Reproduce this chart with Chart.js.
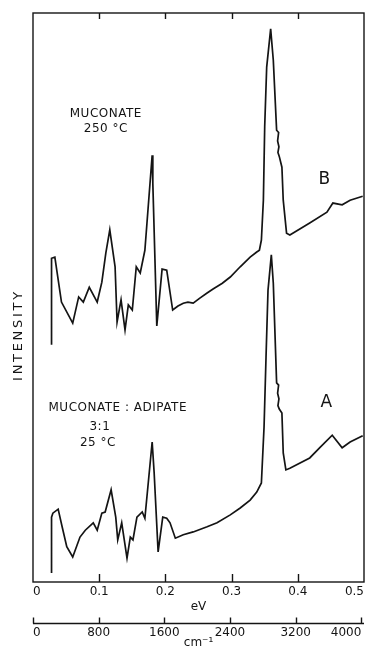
<!DOCTYPE html>
<html>
<head>
<meta charset="utf-8">
<script src="https://cdn.jsdelivr.net/npm/chart.js@4.4.0/dist/chart.umd.min.js"></script>
<style>
  html, body { margin: 0; background: #fff; }
  canvas { display: block; }
</style>
</head>
<body>
<canvas id="chart" width="368" height="658"></canvas>
<script>
const evTicks = [0, 0.1, 0.2, 0.3, 0.4, 0.5];
const cmTicks = [0, 800, 1600, 2400, 3200, 4000];
const EV_TO_CM = 8065.5;

// B : muconate 250 °C  (eV / intensity, arb. units)
const bEv = [0.028, 0.028, 0.033, 0.043, 0.060, 0.069, 0.076, 0.085, 0.097, 0.104,
  0.110, 0.116, 0.124, 0.127, 0.133, 0.139, 0.144, 0.150, 0.156, 0.162,
  0.169, 0.180, 0.181, 0.187, 0.195, 0.202, 0.211, 0.219, 0.227, 0.234,
  0.242, 0.252, 0.263, 0.272, 0.286, 0.298, 0.313, 0.328, 0.338, 0.342,
  0.345, 0.348, 0.350, 0.353, 0.359, 0.363, 0.368, 0.371, 0.3695, 0.3715,
  0.370, 0.372, 0.376, 0.378, 0.383, 0.388, 0.418, 0.444, 0.453, 0.467,
  0.479, 0.498];
const bInt = [41.7, 56.9, 57.1, 49.2, 45.5, 50.1, 49.2, 51.8, 49.2, 52.7,
  57.8, 61.9, 55.4, 45.7, 49.6, 44.3, 48.7, 47.8, 55.4, 54.3,
  58.3, 75.0, 70.1, 45.0, 55.0, 54.8, 47.8, 48.5, 49.0, 49.2,
  49.0, 49.9, 50.8, 51.5, 52.5, 53.6, 55.4, 57.1, 58.0, 58.3,
  60.1, 67.1, 80.0, 90.5, 97.2, 91.7, 79.4, 79.0, 77.5, 76.5,
  75.5, 74.8, 72.9, 67.1, 61.3, 61.0, 63.1, 65.0, 66.6, 66.3,
  67.1, 67.8];

// A : muconate:adipate 3:1, 25 °C
const aEv = [0.028, 0.028, 0.030, 0.038, 0.044, 0.051, 0.060, 0.071, 0.079, 0.091,
  0.097, 0.104, 0.109, 0.118, 0.125, 0.128, 0.134, 0.142, 0.147, 0.151,
  0.157, 0.165, 0.169, 0.180, 0.183, 0.189, 0.196, 0.202, 0.207, 0.215,
  0.227, 0.242, 0.263, 0.278, 0.298, 0.313, 0.328, 0.338, 0.345, 0.349,
  0.352, 0.355, 0.360, 0.363, 0.368, 0.371, 0.3695, 0.3715, 0.370, 0.372,
  0.376, 0.378, 0.382, 0.388, 0.418, 0.434, 0.452, 0.467, 0.479, 0.498];
const aInt = [1.6, 11.4, 12.1, 12.8, 9.7, 6.2, 4.4, 7.9, 9.1, 10.4,
  9.1, 12.1, 12.3, 16.2, 11.4, 7.4, 10.4, 4.2, 7.9, 7.4,
  11.4, 12.3, 11.2, 24.6, 19.2, 5.3, 11.4, 11.2, 10.4, 7.7,
  8.3, 8.8, 9.7, 10.4, 11.8, 13.0, 14.4, 15.8, 17.4, 27.2,
  39.5, 51.3, 57.5, 52.5, 35.0, 34.6, 33.2, 32.2, 31.0, 30.4,
  29.7, 22.7, 19.7, 20.0, 21.8, 23.7, 25.8, 23.6, 24.6, 25.7];

const INK = '#141414';
const FONT = '"DejaVu Sans", sans-serif';

function pts(xs, ys) {
  return xs.map((x, i) => ({ x: x, y: ys[i] }));
}

// text written on the plot, placed in data units
const notes = [
  { text: 'MUCONATE', x: 0.110, y: 82.2, size: 12 },
  { text: '250 °C', x: 0.110, y: 79.6, size: 12 },
  { text: 'B', x: 0.440, y: 70.8, size: 17 },
  { text: 'MUCONATE : ADIPATE', x: 0.128, y: 30.6, size: 12 },
  { text: '3:1', x: 0.101, y: 27.2, size: 12 },
  { text: '25 °C', x: 0.098, y: 24.4, size: 12 },
  { text: 'A', x: 0.443, y: 31.5, size: 17 }
];

const framePlugin = {
  id: 'frame',
  beforeDraw(chart) {
    const ctx = chart.ctx;
    ctx.save();
    ctx.fillStyle = '#fff';
    ctx.fillRect(0, 0, chart.width, chart.height);
    ctx.restore();
  },
  afterDraw(chart) {
    const { ctx, chartArea: ca, scales } = chart;
    const x = scales.x, x2 = scales.x2, y = scales.y;
    ctx.save();
    ctx.strokeStyle = INK;
    ctx.lineWidth = 1.4;
    ctx.strokeRect(ca.left, ca.top, ca.right - ca.left, ca.bottom - ca.top);

    ctx.beginPath();
    evTicks.slice(1, -1).forEach(v => {
      const px = Math.round(x.getPixelForValue(v)) + 0.5;
      ctx.moveTo(px, ca.top); ctx.lineTo(px, ca.top + 6);
      ctx.moveTo(px, ca.bottom); ctx.lineTo(px, ca.bottom - 8);
    });
    // wavenumber axis
    const yc = x2.top + 0.5;
    ctx.moveTo(ca.left, yc); ctx.lineTo(ca.right, yc);
    cmTicks.forEach(v => {
      const px = Math.round(x2.getPixelForValue(v)) + 0.5;
      ctx.moveTo(px, yc); ctx.lineTo(px, yc - 6);
    });
    ctx.stroke();

    ctx.fillStyle = INK;
    ctx.textAlign = 'center';
    ctx.textBaseline = 'middle';
    notes.forEach(n => {
      ctx.font = n.size + 'px ' + FONT;
      ctx.letterSpacing = n.size > 14 ? '0px' : '0.5px';
      ctx.fillText(n.text, x.getPixelForValue(n.x), y.getPixelForValue(n.y));
    });

    ctx.translate(ca.left - 14, y.getPixelForValue(43.4));
    ctx.rotate(-Math.PI / 2);
    ctx.font = '13px ' + FONT;
    ctx.letterSpacing = '2.7px';
    ctx.fillText('INTENSITY', 0, 0);
    ctx.restore();
  }
};

new Chart(document.getElementById('chart'), {
  type: 'line',
  data: {
    datasets: [
      { label: 'B', data: pts(bEv, bInt), borderColor: INK, borderWidth: 1.7, pointRadius: 0, tension: 0 },
      { label: 'A', data: pts(aEv, aInt), borderColor: INK, borderWidth: 1.7, pointRadius: 0, tension: 0 }
    ]
  },
  options: {
    responsive: false,
    animation: false,
    layout: { padding: { top: 13, left: 33, right: 4, bottom: 0 } },
    plugins: { legend: { display: false }, tooltip: { enabled: false } },
    scales: {
      x: {
        type: 'linear', position: 'bottom', weight: 0,
        min: 0, max: 0.5,
        grid: { display: false, drawTicks: false },
        border: { display: false },
        afterBuildTicks: s => { s.ticks = evTicks.map(v => ({ value: v })); },
        afterFit: s => { s.height = 41; s.paddingLeft = 0; s.paddingRight = 0; },
        ticks: {
          padding: 3, color: INK, maxRotation: 0, autoSkip: false, align: 'inner',
          font: { family: FONT, size: 12 },
          callback: v => v === 0 ? '0' : v.toFixed(1)
        },
        title: { display: true, text: 'eV', color: INK, font: { family: FONT, size: 12 }, padding: { top: 0, bottom: 9 } }
      },
      x2: {
        type: 'linear', position: 'bottom', weight: 1,
        min: 0, max: 0.5 * EV_TO_CM,
        grid: { display: false, drawTicks: false },
        border: { display: false },
        afterBuildTicks: s => { s.ticks = cmTicks.map(v => ({ value: v })); },
        afterFit: s => { s.height = 35; s.paddingLeft = 0; s.paddingRight = 0; },
        ticks: {
          padding: 3, color: INK, maxRotation: 0, autoSkip: false, align: 'inner',
          font: { family: FONT, size: 12 },
          callback: v => String(v)
        },
        title: { display: true, text: 'cm⁻¹', color: INK, font: { family: FONT, size: 12 }, padding: { top: 0, bottom: 8 } }
      },
      y: {
        type: 'linear', display: false, min: 0, max: 100
      }
    }
  },
  plugins: [framePlugin]
});
</script>
</body>
</html>
